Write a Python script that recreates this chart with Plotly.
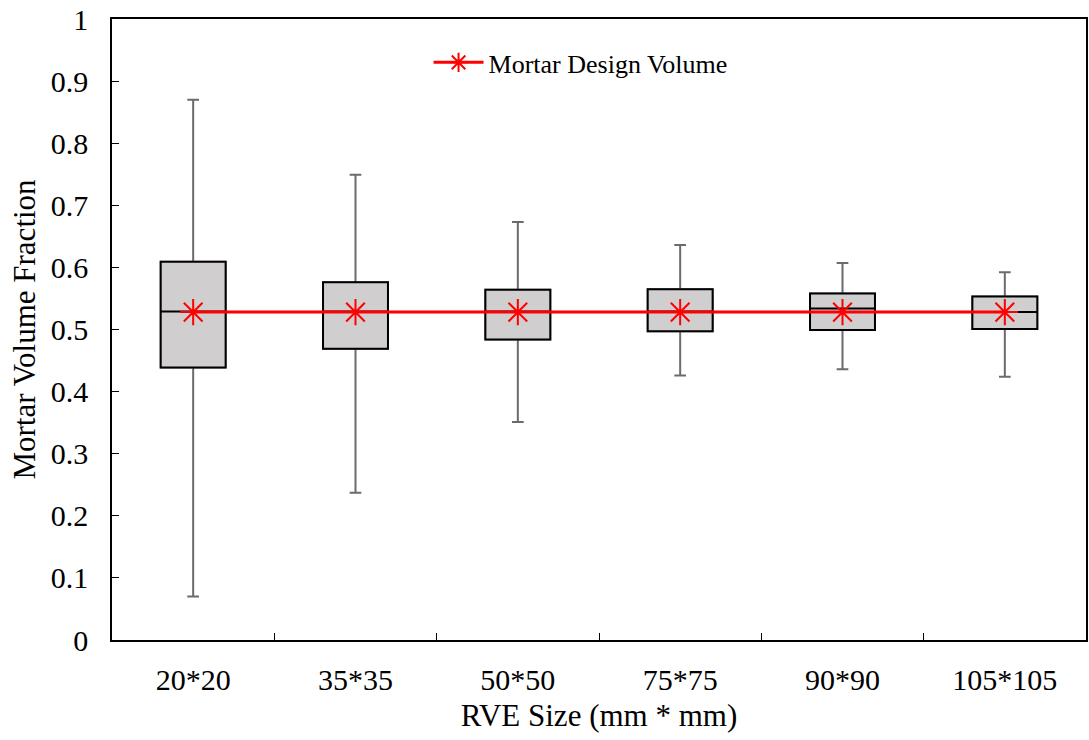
import plotly.graph_objects as go

# RVE sizes and the five-number summaries of mortar volume fraction
categories = ["20*20", "35*35", "50*50", "75*75", "90*90", "105*105"]
whisker_low = [0.070, 0.237, 0.351, 0.426, 0.436, 0.424]
q1 = [0.439, 0.469, 0.484, 0.497, 0.499, 0.501]
median = [0.529, 0.529, 0.529, 0.529, 0.534, 0.528]
q3 = [0.609, 0.576, 0.564, 0.565, 0.558, 0.553]
whisker_high = [0.870, 0.749, 0.673, 0.636, 0.607, 0.592]

design_volume = 0.528

FONT = "Liberation Serif, Times New Roman, serif"

fig = go.Figure()

# whiskers (grey), drawn as a full box underneath
fig.add_trace(go.Box(
    x=categories, q1=q1, median=median, q3=q3,
    lowerfence=whisker_low, upperfence=whisker_high,
    line=dict(color="#6b6b6b", width=2),
    fillcolor="#d0cecf", width=0.4, whiskerwidth=0.18,
    showlegend=False, hoverinfo="skip",
))
# box body with black outline and median line
fig.add_trace(go.Box(
    x=categories, q1=q1, median=median, q3=q3,
    lowerfence=q1, upperfence=q3,
    line=dict(color="black", width=2),
    fillcolor="#d0cecf", width=0.4, whiskerwidth=0,
    showlegend=False,
))
# design mortar volume
fig.add_trace(go.Scatter(
    x=categories, y=[design_volume] * len(categories),
    mode="lines+markers", name="Mortar Design Volume",
    line=dict(color="#ff0000", width=3),
    marker=dict(symbol="asterisk-open", size=22, color="#ff0000",
                line=dict(color="#ff0000", width=2)),
))

fig.update_layout(
    width=1089, height=740,
    margin=dict(l=112, r=1, t=19, b=100),
    paper_bgcolor="white", plot_bgcolor="white",
    font=dict(family=FONT, size=30, color="black"),
    boxmode="overlay",
    legend=dict(x=0.325, y=0.93, xanchor="left", yanchor="middle",
                font=dict(size=26, family=FONT), bgcolor="rgba(0,0,0,0)",
                itemwidth=50),
)
fig.update_xaxes(
    title=dict(text="RVE Size (mm * mm)", font=dict(size=31), standoff=10),
    showline=True, linecolor="black", linewidth=1.5, mirror=True,
    ticks="inside", tickson="boundaries", ticklen=7, tickcolor="black",
    showgrid=False, ticklabelstandoff=12,
)
fig.update_yaxes(
    title=dict(text="Mortar Volume Fraction", font=dict(size=31), standoff=6),
    range=[0, 1], dtick=0.1, tickformat="~g",
    showline=True, linecolor="black", linewidth=1.5, mirror=True,
    ticks="inside", ticklen=7, tickcolor="black",
    showgrid=False, zeroline=False, ticklabelstandoff=16,
)

fig.write_html("out.html")
